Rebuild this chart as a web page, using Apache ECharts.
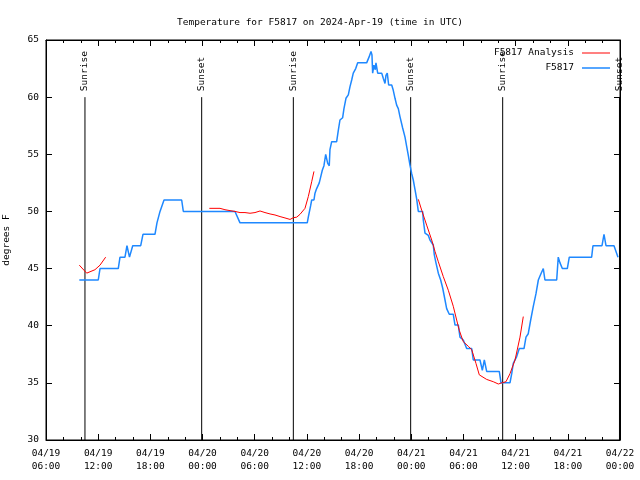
<!DOCTYPE html>
<html><head><meta charset="utf-8">
<script src="https://cdn.jsdelivr.net/npm/echarts@6/dist/echarts.min.js"></script>
<style>html,body{margin:0;padding:0;background:#fff}#c{width:640px;height:480px}</style>
</head><body><div id="c"></div>
<script>
// hours since 2024-04-19 00:00 UTC
const titleText = 'Temperature for F5817 on 2024-Apr-19 (time in UTC)';
const xTickLabels = ['04/19\n06:00','04/19\n12:00','04/19\n18:00','04/20\n00:00','04/20\n06:00','04/20\n12:00','04/20\n18:00','04/21\n00:00','04/21\n06:00','04/21\n12:00','04/21\n18:00','04/22\n00:00'];
const obsHours = [9.83,12.01,12.21,14.31,14.51,15.08,15.31,15.6,15.97,16.89,17.15,18.53,18.76,19.11,19.57,21.6,21.79,27.73,28.31,36.04,36.16,36.43,36.55,36.81,36.93,37.12,37.42,37.58,37.77,37.96,38.16,38.39,38.57,38.65,38.85,39.42,39.61,39.8,40.11,40.26,40.49,40.76,40.95,41.15,41.33,41.61,41.84,42.87,43.14,43.37,43.48,43.56,43.71,43.86,43.94,44.14,44.6,44.78,44.98,45.09,45.24,45.4,45.75,45.93,46.13,46.32,46.51,46.7,47.01,47.28,47.47,47.66,47.85,48.05,48.23,48.43,48.62,48.81,49.31,49.38,49.58,49.96,50.15,50.53,50.65,50.84,51.11,51.38,51.61,51.88,52.07,52.37,52.83,53.03,53.41,53.6,53.98,54.37,54.95,55.13,55.9,56.17,56.4,56.67,58.12,58.32,59.35,59.55,59.73,60.12,60.42,60.96,61.19,61.45,61.73,62.03,62.34,62.61,62.8,63.0,63.18,63.37,64.72,64.9,65.1,65.37,65.94,66.17,68.74,68.89,69.93,70.16,70.39,71.31,71.77];
const obsTemps = [44,44,45,45,46,46,47,46,47,47,48,48,49,50,51,51,50,50,49,49,49.5,50.5,51,51,51.6,52,52.5,53,53.6,54,55,54.2,54,55.4,56.1,56.1,57.1,58,58.2,59,59.9,60.2,60.9,61.5,62.1,62.5,63,63,63.5,64,63.7,62.1,62.8,62.4,63,62.1,62.1,61.65,61.2,61.9,62.1,61.06,61.06,60.6,59.9,59.3,59,58.3,57.3,56.5,55.7,54.9,54.06,53.3,52.75,51.9,51.1,50,50,49.25,48.1,47.9,47.5,47.06,46.2,45.5,44.6,44,43.3,42.25,41.5,41,41,40.06,40.06,39,38.75,38,38,37,37,36.1,37,36,36,35,35,35.8,36.7,37.3,38,38,39,39.3,40.5,41.7,42.8,44,44.35,44.7,45,44,44,46,45.5,45,45,46,46,47,47,48,47,47,46];
// analysis segments
const anaHours1 = [9.83,10.68,11.63,12.21,12.86];
const anaTemps1 = [45.3,44.6,44.9,45.3,46.0];
const anaHours2 = [24.78,26.01,26.58,27.16,27.73,28.31,28.88,29.46,30.03,30.61,31.18,31.76,32.33,32.91,33.48,34.06,34.44,34.83,35.21,35.78,36.16,36.55,36.81];
const anaTemps2 = [50.27,50.27,50.15,50.07,50.0,49.9,49.9,49.84,49.9,50.04,49.9,49.78,49.69,49.55,49.43,49.3,49.45,49.5,49.75,50.27,51.3,52.6,53.5];
const anaHours3 = [48.81,49.2,49.77,50.35,50.73,51.11,51.68,52.26,52.83,53.22,53.52,53.98,54.56,54.95,55.44,55.82,56.67,57.43,58.01,58.4,58.89,59.35,59.93,60.5,60.88];
const anaTemps3 = [51.06,50.1,48.8,47.5,46.5,45.6,44.3,43.1,41.7,40.5,39.6,38.6,38.2,37.9,36.7,35.7,35.3,35.1,34.9,35.0,35.1,35.8,37.0,39.0,40.8];
const sunHours = [10.48,23.9,34.44,47.93,58.51,71.94];
const sunNames = ['Sunrise','Sunset','Sunrise','Sunset','Sunrise','Sunset'];
const sunLineBottom = 30, sunLineTop = 60;

const FONT = 'DejaVu Sans Mono';
const FS = 9.5;
const pair = (h, v) => h.map((x, i) => [x, v[i]]);
const anaData = [].concat(pair(anaHours1, anaTemps1), [[12.9, '-']], pair(anaHours2, anaTemps2), [[36.9, '-']], pair(anaHours3, anaTemps3));
const sunData = [];
sunHours.forEach((h, i) => {
  sunData.push([h, sunLineBottom]);
  sunData.push({value: [h, sunLineTop], label: {show: true, formatter: sunNames[i]}});
  sunData.push([h, '-']);
});

const chart = echarts.init(document.getElementById('c'), null, {renderer: 'canvas'});
const tickCommon = {inside: true, length: 6, lineStyle: {color: '#000'}};
const legendText = {fontFamily: FONT, fontSize: FS, color: '#000', padding: [0, 3, 0, 0]};
chart.setOption({
  animation: false,
  backgroundColor: '#fff',
  textStyle: {fontFamily: FONT, fontSize: FS, color: '#000'},
  title: {text: titleText, left: 'center', top: 13, textStyle: {fontFamily: FONT, fontSize: FS, fontWeight: 'normal', color: '#000'}},
  legend: [
    {data: [{name: 'F5817 Analysis', icon: 'rect'}], right: 25, top: 43, align: 'right', itemWidth: 28, itemHeight: 1, itemGap: 0, textStyle: legendText},
    {data: [{name: 'F5817', icon: 'rect'}], right: 25, top: 58, align: 'right', itemWidth: 28, itemHeight: 1.5, itemGap: 0, textStyle: legendText}
  ],
  grid: {left: 46, right: 20, top: 40, bottom: 40, containLabel: false, outerBoundsMode: 'none',
    show: true, borderColor: '#000', borderWidth: 1, backgroundColor: 'transparent'},
  xAxis: [
    {type: 'value', min: 6, max: 72, interval: 6, position: 'bottom',
     axisLine: {show: true, lineStyle: {color: '#000'}},
     axisTick: tickCommon,
     minorTick: {show: true, splitNumber: 3, length: 3, lineStyle: {color: '#000'}},
     splitLine: {show: false},
     axisLabel: {color: '#000', fontFamily: FONT, fontSize: FS, margin: 7, lineHeight: 13, hideOverlap: false,
       formatter: v => xTickLabels[Math.round((v - 6) / 6)] || ''}},
    {type: 'value', min: 6, max: 72, interval: 6, position: 'top',
     axisLine: {show: true, lineStyle: {color: '#000'}},
     axisTick: tickCommon,
     minorTick: {show: true, splitNumber: 3, length: 3, lineStyle: {color: '#000'}},
     splitLine: {show: false}, axisLabel: {show: false}}
  ],
  yAxis: [
    {type: 'value', min: 30, max: 65, interval: 5, position: 'left',
     name: 'degrees F', nameLocation: 'middle', nameGap: 34, nameRotate: 90,
     nameTextStyle: {fontFamily: FONT, fontSize: FS, color: '#000'},
     axisLine: {show: true, lineStyle: {color: '#000'}},
     axisTick: tickCommon, splitLine: {show: false},
     axisLabel: {color: '#000', fontFamily: FONT, fontSize: FS, margin: 7}},
    {type: 'value', min: 30, max: 65, interval: 5, position: 'right',
     axisLine: {show: true, lineStyle: {color: '#000'}},
     axisTick: tickCommon, splitLine: {show: false}, axisLabel: {show: false}}
  ],
  series: [
    {name: 'sun', type: 'line', data: sunData, silent: true, symbol: 'circle', symbolSize: 0, showSymbol: true,
     connectNulls: false, lineStyle: {color: '#000', width: 1}, itemStyle: {color: '#000'},
     label: {show: false, position: 'top', distance: 6, rotate: 90, align: 'left', verticalAlign: 'middle',
       fontFamily: FONT, fontSize: FS, color: '#000'},
     emphasis: {disabled: true}, z: 1},
    {name: 'F5817 Analysis', type: 'line', data: anaData, symbol: 'none', connectNulls: false,
     lineStyle: {color: '#ff0000', width: 1}, itemStyle: {color: '#ff0000'}, z: 3},
    {name: 'F5817', type: 'line', data: pair(obsHours, obsTemps), symbol: 'none',
     lineStyle: {color: '#1e88ff', width: 1.5}, itemStyle: {color: '#1e88ff'}, z: 2}
  ]
});
</script></body></html>
